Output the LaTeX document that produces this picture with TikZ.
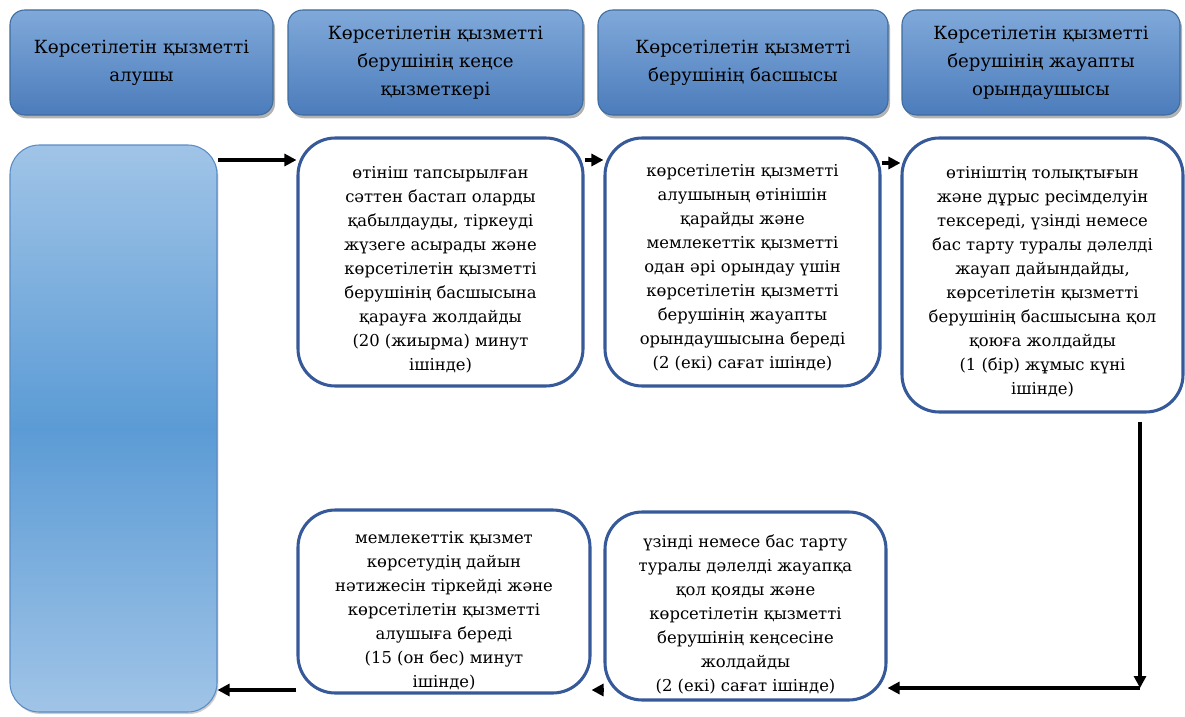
\documentclass[tikz,border=0pt]{standalone}
\usepackage{fontspec}
\setmainfont{DejaVu Serif}
\newfontfamily\kzserif{DejaVu Serif}
\usetikzlibrary{arrows.meta}
\usetikzlibrary{shadows}
\definecolor{headtop}{HTML}{80A9DA}
\definecolor{headbot}{HTML}{4B7CBB}
\definecolor{headline}{HTML}{3E6C9E}
\definecolor{tallmid}{HTML}{5B9BD5}
\definecolor{tallend}{HTML}{A0C4E7}
\definecolor{tallline}{HTML}{5A8CC6}
\definecolor{stepline}{HTML}{36599A}

\begin{document}
\begin{tikzpicture}[x=0.75pt,y=-0.75pt,
		header/.style={draw=headline, line width=0.8pt, rounded corners=11pt, top color=headtop, bottom color=headbot, drop shadow={shadow xshift=1.5pt, shadow yshift=-2.5pt, opacity=0.6}, align=center, inner sep=0pt, font=\kzserif\fontsize{13.6}{21}\selectfont},
		tallbox/.style={draw=tallline, line width=0.8pt, rounded corners=22pt, top color=tallend, bottom color=tallend, middle color=tallmid, drop shadow={shadow xshift=1pt, shadow yshift=-1.5pt, opacity=0.4}},
		stepbox/.style={draw=stepline, line width=2.3pt, fill=white, rounded corners=28pt},
		steptext/.style={align=center, inner sep=0pt, font=\kzserif\fontsize{12.3}{18}\selectfont},
		flow/.style={-{Triangle[length=9pt,width=9pt]}, line width=2.4pt}]
		\useasboundingbox (0,0) rectangle (1185,717);
		%
		\begin{scope}
			\node (head-alushy) [header, minimum width=197.25pt, minimum height=78.75pt] at (141.5,62.5) {Көрсетілетін қызметті\\алушы};
			\node (head-kense) [header, minimum width=221.25pt, minimum height=78.75pt] at (435.5,62.5) {Көрсетілетін қызметті\\берушінің кеңсе\\қызметкері};
			\node (head-basshy) [header, minimum width=217.5pt, minimum height=78.75pt] at (743,62.5) {Көрсетілетін қызметті\\берушінің басшысы};
			\node (head-oryndaushy) [header, minimum width=208.5pt, minimum height=78.75pt] at (1041,62.5) {Көрсетілетін қызметті\\берушінің жауапты\\орындаушысы};
		\end{scope}
		%
		\node (tall) [tallbox, minimum width=155.25pt, minimum height=425.25pt] at (113.5,428.5) {};
		%
		\node (step-qabyl) [stepbox, minimum width=213.75pt, minimum height=186pt] at (440.5,262) {};
		\node (step-qabyl-text) [steptext] at ([yshift=-6pt]step-qabyl.center) {өтініш тапсырылған\\сәттен бастап оларды\\қабылдауды, тіркеуді\\жүзеге асырады және\\көрсетілетін қызметті\\берушінің басшысына\\қарауға жолдайды\\(20 (жиырма) минут\\ішінде)};
		%
		\node (step-qarau) [stepbox, minimum width=206.25pt, minimum height=186pt] at (742.5,262) {};
		\node (step-qarau-text) [steptext] at ([yshift=-4pt]step-qarau.center) {көрсетілетін қызметті\\алушының өтінішін\\қарайды және\\мемлекеттік қызметті\\одан әрі орындау үшін\\көрсетілетін қызметті\\берушінің жауапты\\орындаушысына береді\\(2 (екі) сағат ішінде)};
		%
		\node (step-tekseru) [stepbox, minimum width=210.75pt, minimum height=205.5pt] at (1042.5,275) {};
		\node (step-tekseru-text) [steptext] at ([yshift=-5pt]step-tekseru.center) {өтініштің толықтығын\\және дұрыс ресімделуін\\тексереді, үзінді немесе\\бас тарту туралы дәлелді\\жауап дайындайды,\\көрсетілетін қызметті\\берушінің басшысына қол\\қоюға жолдайды\\(1 (бір) жұмыс күні\\ішінде)};
		%
		\node (step-beru) [stepbox, minimum width=219pt, minimum height=137.25pt] at (444,601.5) {};
		\node (step-beru-text) [steptext] at ([yshift=-7pt]step-beru.center) {мемлекеттік қызмет\\көрсетудің дайын\\нәтижесін тіркейді және\\көрсетілетін қызметті\\алушыға береді\\(15 (он бес) минут\\ішінде)};
		%
		\node (step-qol) [stepbox, minimum width=210.75pt, minimum height=141pt] at (745.5,606) {};
		\node (step-qol-text) [steptext] at ([yshift=-6pt]step-qol.center) {үзінді немесе бас тарту\\туралы дәлелді жауапқа\\қол қояды және\\көрсетілетін қызметті\\берушінің кеңсесіне\\жолдайды\\(2 (екі) сағат ішінде)};
		%
		\coordinate (turn) at (1140,688);
		\draw [flow] (tall.east |- 0,160) -- (step-qabyl.west |- 0,160);
		\draw [flow] (step-qabyl.east |- 0,160) -- (step-qarau.west |- 0,160);
		\draw [flow] (step-qarau.east |- 0,163) -- (step-tekseru.west |- 0,163);
		\draw [flow] (step-tekseru.south -| turn) ++(0,8) -- (turn);
		\draw [flow] (turn) -- (step-qol.east |- turn);
		\draw [flow] (step-qol.west |- 0,690) -- (step-beru.east |- 0,690);
		\draw [flow] (step-beru.west |- 0,690) -- (tall.east |- 0,690);
	\end{tikzpicture}
\end{document}
